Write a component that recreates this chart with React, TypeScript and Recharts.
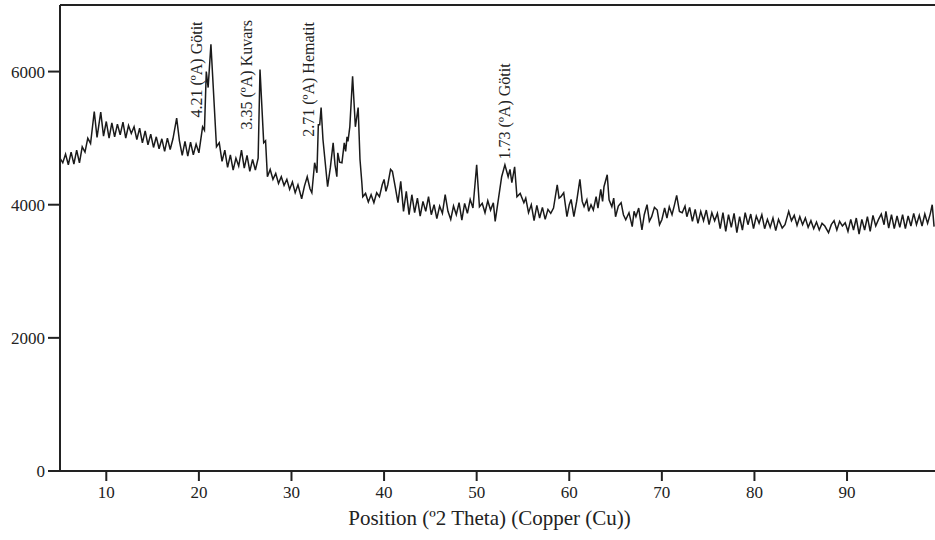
import { LineChart, Line, XAxis, YAxis, ReferenceLine, ReferenceDot } from "recharts";

// [2θ, counts], split by region
const region5to14: [number, number][] = [
  [5.0, 4700], [5.3, 4630], [5.6, 4760], [5.9, 4600], [6.2, 4790], [6.5, 4610], [6.8, 4820], [7.1, 4630],
  [7.4, 4870], [7.7, 4790], [8.0, 5000], [8.3, 4920], [8.7, 5400], [9.0, 5010], [9.4, 5390], [9.7, 5030],
  [10.0, 5250], [10.3, 5000], [10.6, 5230], [10.9, 5020], [11.2, 5210], [11.5, 5050], [11.8, 5240], [12.1, 5000],
  [12.4, 5190], [12.7, 5070], [13.0, 5170], [13.3, 4980], [13.6, 5150], [13.9, 4930],
];

const region14to21: [number, number][] = [
  [14.2, 5110], [14.5, 4900], [14.8, 5060], [15.1, 4860], [15.4, 5020], [15.7, 4840], [16.0, 4990], [16.3, 4800],
  [16.6, 5000], [16.9, 4830], [17.2, 4990], [17.6, 5300], [17.9, 4960], [18.2, 4740], [18.5, 4950], [18.8, 4730],
  [19.1, 4940], [19.4, 4750], [19.7, 4910], [20.0, 4780], [20.4, 5170], [20.6, 5120],
];

const region21to27: [number, number][] = [
  [20.8, 6000], [21.0, 5760], [21.3, 6410], [21.9, 4870], [22.2, 4930], [22.5, 4650], [22.8, 4820], [23.1, 4560],
  [23.4, 4750], [23.7, 4520], [24.0, 4700], [24.3, 4580], [24.6, 4820], [24.9, 4550], [25.2, 4740], [25.5, 4500],
  [25.8, 4680], [26.1, 4520], [26.4, 4700], [26.6, 6030], [27.0, 4930], [27.2, 4960], [27.4, 4420],
];

const region27to38: [number, number][] = [
  [27.7, 4530], [28.0, 4380], [28.3, 4470], [28.6, 4320], [28.9, 4420], [29.2, 4290], [29.5, 4380], [29.8, 4230],
  [30.1, 4340], [30.4, 4180], [30.7, 4300], [31.1, 4090], [31.4, 4280], [31.7, 4420], [32.0, 4240], [32.2, 4180],
  [32.5, 4630], [32.75, 4480], [32.9, 5200], [33.05, 5200], [33.2, 5460], [33.4, 4980], [33.9, 4270], [34.2, 4560],
  [34.5, 4930], [34.7, 4600], [34.9, 4420], [35.0, 4780], [35.2, 4640], [35.45, 4630], [35.7, 4930], [35.85, 4800],
  [36.0, 5020], [36.1, 4950], [36.3, 5170], [36.6, 5930], [36.9, 5170], [37.2, 5460], [37.4, 4680], [37.6, 4330],
  [37.7, 4120],
];

const region38to50: [number, number][] = [
  [38.0, 4170], [38.3, 4040], [38.6, 4150], [38.9, 4030], [39.2, 4180], [39.5, 4120], [39.8, 4300], [40.0, 4380],
  [40.2, 4200], [40.4, 4300], [40.7, 4530], [40.9, 4500], [41.2, 4270], [41.5, 4030], [41.8, 4350], [42.1, 3900],
  [42.4, 4200], [42.7, 3850], [43.0, 4150], [43.3, 3880], [43.6, 4100], [43.9, 3830], [44.2, 4050], [44.5, 3900],
  [44.8, 4120], [45.1, 3850], [45.4, 4000], [45.7, 3790], [46.0, 3980], [46.3, 3870], [46.6, 4150], [46.9, 3900],
  [47.2, 3780], [47.5, 3980], [47.8, 3850], [48.1, 4030], [48.4, 3770], [48.7, 4020], [49.0, 3870], [49.3, 4080],
  [49.6, 3950], [50.0, 4600], [50.3, 3970],
];

const region50to56: [number, number][] = [
  [50.6, 4020], [50.9, 3880], [51.2, 4060], [51.5, 3920], [51.8, 4030], [52.0, 3750], [52.5, 4230], [52.7, 4420],
  [53.05, 4600], [53.4, 4420], [53.6, 4530], [53.8, 4330], [54.1, 4570], [54.35, 4120], [54.7, 4170], [55.1, 4030],
  [55.3, 4100], [55.6, 3880],
];

const region56to73: [number, number][] = [
  [55.9, 4000], [56.2, 3760], [56.5, 3990], [56.8, 3800], [57.1, 3960], [57.4, 3780], [57.7, 3930], [58.0, 3870],
  [58.3, 3950], [58.7, 4300], [58.9, 4100], [59.1, 4120], [59.4, 4180], [59.75, 3820], [60.0, 4000], [60.2, 4080],
  [60.5, 3820], [60.8, 4050], [61.15, 4380], [61.4, 4050], [61.6, 3970], [61.9, 4075], [62.1, 3900], [62.35, 4000],
  [62.6, 3920], [62.9, 4120], [63.1, 3950], [63.4, 4230], [63.6, 4050], [63.75, 4270], [64.1, 4450], [64.3, 4075],
  [64.6, 3970], [64.8, 4100], [65.0, 3820], [65.3, 3980], [65.6, 4030], [65.85, 3850], [66.1, 3775], [66.45, 3880],
  [66.8, 3670], [67.0, 3900], [67.2, 3820], [67.5, 3950], [67.85, 3620], [68.1, 3850], [68.4, 4000], [68.65, 3750],
  [68.9, 3820], [69.2, 3960], [69.5, 3920], [69.75, 3700], [70.0, 3775], [70.3, 3950], [70.55, 3800], [70.8, 3970],
  [71.1, 3850], [71.35, 3990], [71.6, 4140], [71.9, 3900], [72.2, 3880], [72.5, 3980], [72.7, 3820],
];

const region73to90: [number, number][] = [
  [73.0, 3960], [73.3, 3750], [73.6, 3930], [73.9, 3720], [74.2, 3900], [74.5, 3760], [74.8, 3920], [75.1, 3700],
  [75.4, 3880], [75.7, 3760], [76.0, 3870], [76.3, 3640], [76.6, 3880], [76.9, 3600], [77.2, 3850], [77.5, 3660],
  [77.8, 3870], [78.1, 3580], [78.4, 3820], [78.7, 3620], [79.0, 3880], [79.3, 3700], [79.6, 3860], [79.9, 3640],
  [80.2, 3830], [80.5, 3720], [80.8, 3850], [81.1, 3640], [81.4, 3780], [81.7, 3660], [82.0, 3800], [82.3, 3610],
  [82.6, 3780], [83.0, 3650], [83.3, 3700], [83.7, 3900], [84.0, 3760], [84.3, 3840], [84.6, 3690], [84.9, 3820],
  [85.2, 3700], [85.5, 3800], [85.8, 3660], [86.1, 3760], [86.4, 3640], [86.7, 3740], [87.0, 3620], [87.3, 3720],
  [87.6, 3680], [88.0, 3580], [88.3, 3700], [88.6, 3760], [88.9, 3620], [89.2, 3750], [89.5, 3680], [89.8, 3730],
];

const region90to100: [number, number][] = [
  [90.1, 3600], [90.4, 3780], [90.7, 3620], [91.0, 3800], [91.3, 3560], [91.6, 3780], [91.9, 3620], [92.2, 3820],
  [92.5, 3600], [92.8, 3840], [93.1, 3680], [93.4, 3780], [93.7, 3860], [94.0, 3700], [94.2, 3900], [94.5, 3650],
  [94.8, 3850], [95.1, 3640], [95.4, 3830], [95.7, 3660], [96.0, 3850], [96.3, 3640], [96.6, 3830], [96.9, 3680],
  [97.2, 3870], [97.5, 3700], [97.8, 3840], [98.1, 3680], [98.4, 3860], [98.7, 3720], [99.0, 3870], [99.2, 4000],
  [99.4, 3670],
];

const xTicks = [10, 20, 30, 40, 50, 60, 70, 80, 90];
const yTicks = [0, 2000, 4000, 6000];

// peak annotations: anchor (2θ, counts) at the lower end of the vertical text
const peakLabels = [
  { theta: 20.33, counts: 5310, text: "4.21 (ºA) Götit" },
  { theta: 25.73, counts: 5130, text: "3.35 (ºA) Kuvars" },
  { theta: 32.43, counts: 5020, text: "2.71 (ºA) Hematit" },
  { theta: 53.6, counts: 4680, text: "1.73 (ºA) Götit" },
];

const data = [
  ...region5to14,
  ...region14to21,
  ...region21to27,
  ...region27to38,
  ...region38to50,
  ...region50to56,
  ...region56to73,
  ...region73to90,
  ...region90to100,
].map(([theta, counts]) => ({ theta, counts }));

const FONT = '"Liberation Serif", "Times New Roman", serif';
const INK = "#222";

function verticalLabel(text: string) {
  return (props: any) => {
    const { cx, cy } = props;
    return (
      <text
        x={cx}
        y={cy}
        transform={`rotate(-90 ${cx} ${cy})`}
        textAnchor="start"
        fontFamily={FONT}
        fontSize={16}
        fill={INK}
      >
        {text}
      </text>
    );
  };
}

export default function App() {
  return (
    <div style={{ width: 935, height: 540, background: "#fff" }}>
      <style>{"body{margin:0}"}</style>
      <LineChart
        width={935}
        height={540}
        data={data}
        margin={{ top: 5, right: 0, bottom: 39, left: 0 }}
      >
        <XAxis
          dataKey="theta"
          type="number"
          domain={[5, 99.5]}
          ticks={xTicks}
          allowDataOverflow
          height={30}
          tickSize={10}
          tickMargin={5}
          axisLine={{ stroke: INK, strokeWidth: 2 }}
          tickLine={{ stroke: INK, strokeWidth: 2 }}
          tick={{ fill: INK, fontSize: 17, fontFamily: FONT }}
          label={{
            value: "Position (º2 Theta) (Copper (Cu))",
            position: "bottom",
            offset: 9,
            dx: -8,
            style: { fill: INK, fontSize: 21, fontFamily: FONT },
          }}
        />
        <YAxis
          type="number"
          domain={[0, 7000]}
          ticks={yTicks}
          allowDataOverflow
          width={60}
          tickSize={12}
          tickMargin={3}
          axisLine={{ stroke: INK, strokeWidth: 2 }}
          tickLine={{ stroke: INK, strokeWidth: 2 }}
          tick={{ fill: INK, fontSize: 17, fontFamily: FONT }}
        />
        <ReferenceLine y={7000} stroke={INK} strokeWidth={2} />
        <Line
          type="linear"
          dataKey="counts"
          stroke="#1a1a1a"
          strokeWidth={1.5}
          dot={false}
          isAnimationActive={false}
        />
        {peakLabels.map((p) => (
          <ReferenceDot
            key={p.text}
            x={p.theta}
            y={p.counts}
            r={0}
            shape={verticalLabel(p.text)}
          />
        ))}
      </LineChart>
    </div>
  );
}
